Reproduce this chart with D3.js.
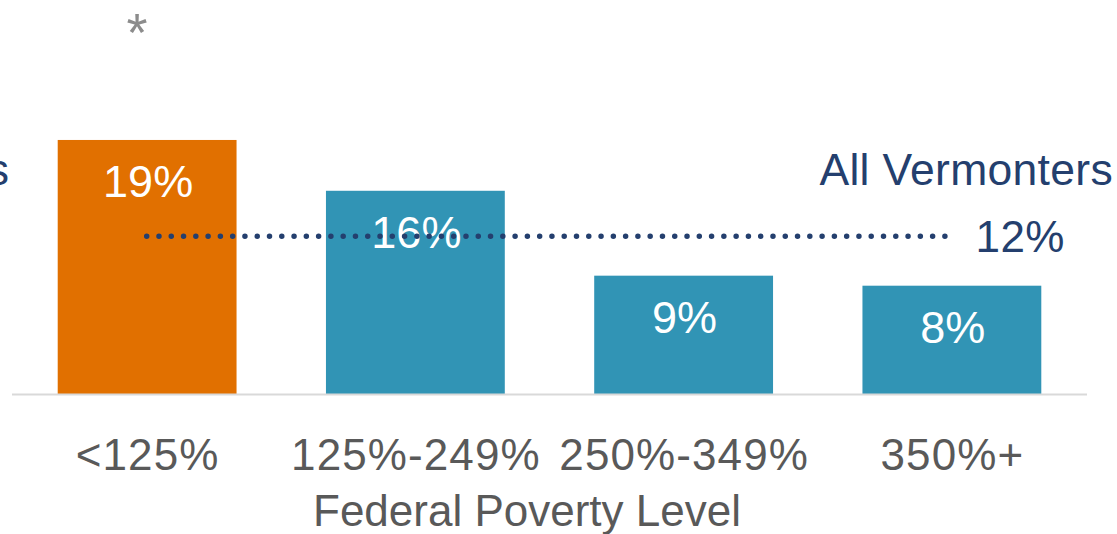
<!DOCTYPE html>
<html>
<head>
<meta charset="utf-8">
<script src="https://cdn.jsdelivr.net/npm/d3@7"></script>
<style>
  html, body { margin: 0; padding: 0; background: #fff; }
  svg { display: block; font-family: "Liberation Sans", Arial, sans-serif; }
</style>
</head>
<body>
<svg id="chart" width="1117" height="534"></svg>
<script>
// Data
const categories = ["<125%", "125%-249%", "250%-349%", "350%+"];
const values = [19.0, 15.2, 8.85, 8.1];
const valueLabels = ["19%", "16%", "9%", "8%"];
const barColors = ["#E17000", "#3194B5", "#3194B5", "#3194B5"];
const allVermontersValue = 11.8;
const allVermontersLabel = "12%";
const refName = "All Vermonters";
const axisTitle = "Federal Poverty Level";

const svg = d3.select("#chart");
const baseline = 394;

const x = d3.scaleBand()
  .domain(categories)
  .range([13, 1086])
  .paddingInner(1/3)
  .paddingOuter(1/6);

const y = d3.scaleLinear()
  .domain([0, 20])
  .range([baseline, baseline - 20 * 13.37]);

// Bars
svg.selectAll("rect.bar")
  .data(categories)
  .join("rect")
  .attr("class", "bar")
  .attr("x", d => x(d))
  .attr("width", x.bandwidth())
  .attr("y", (d, i) => y(values[i]))
  .attr("height", (d, i) => y(0) - y(values[i]))
  .attr("fill", (d, i) => barColors[i]);

// Baseline axis
const xAxis = d3.axisBottom(x).tickSize(0).tickPadding(0);
const axisG = svg.append("g").attr("transform", `translate(0,${baseline})`).call(xAxis);
axisG.select(".domain").remove();
axisG.selectAll(".tick text").remove();
svg.append("line")
  .attr("x1", 12).attr("x2", 1087)
  .attr("y1", baseline + 0.5).attr("y2", baseline + 0.5)
  .attr("stroke", "#D9D9D9").attr("stroke-width", 2);

// Category labels
svg.selectAll("text.cat")
  .data(categories)
  .join("text")
  .attr("class", "cat")
  .attr("x", d => x(d) + x.bandwidth() / 2 + 0.5)
  .attr("y", 470)
  .attr("text-anchor", "middle")
  .attr("font-size", 44)
  .attr("letter-spacing", 1.1)
  .attr("fill", "#595959")
  .text(d => d);

// Axis title
svg.append("text")
  .attr("x", 527).attr("y", 526)
  .attr("text-anchor", "middle")
  .attr("font-size", 44)
  .attr("fill", "#595959")
  .text(axisTitle);

// Value labels
svg.selectAll("text.val")
  .data(categories)
  .join("text")
  .attr("class", "val")
  .attr("x", d => x(d) + x.bandwidth() / 2 + 1)
  .attr("y", (d, i) => y(values[i]) + 57)
  .attr("text-anchor", "middle")
  .attr("font-size", 45)
  .attr("fill", "#FFFFFF")
  .text((d, i) => valueLabels[i]);

// Reference dotted line
const yRef = y(allVermontersValue);
svg.append("line")
  .attr("x1", 146.7).attr("x2", 945)
  .attr("y1", yRef).attr("y2", yRef)
  .attr("stroke", "#243F6E")
  .attr("stroke-width", 5.5)
  .attr("stroke-linecap", "round")
  .attr("stroke-dasharray", "0 12.28");

svg.append("text")
  .attr("x", 1113).attr("y", 185)
  .attr("text-anchor", "end")
  .attr("font-size", 44.5)
  .attr("letter-spacing", 0.3)
  .attr("fill", "#243F6E")
  .text(refName);

svg.append("text")
  .attr("x", 1065).attr("y", 252)
  .attr("text-anchor", "end")
  .attr("font-size", 44)
  .attr("letter-spacing", 0.5)
  .attr("fill", "#243F6E")
  .text(allVermontersLabel);

// Cropped label on the far left
svg.append("text")
  .attr("x", 9).attr("y", 185)
  .attr("text-anchor", "end")
  .attr("font-size", 44.5)
  .attr("fill", "#243F6E")
  .text(refName);

// Asterisk
svg.append("text")
  .attr("x", 137).attr("y", 51)
  .attr("text-anchor", "middle")
  .attr("font-size", 54)
  .attr("fill", "#8C8C8C")
  .text("*");
</script>
</body>
</html>
